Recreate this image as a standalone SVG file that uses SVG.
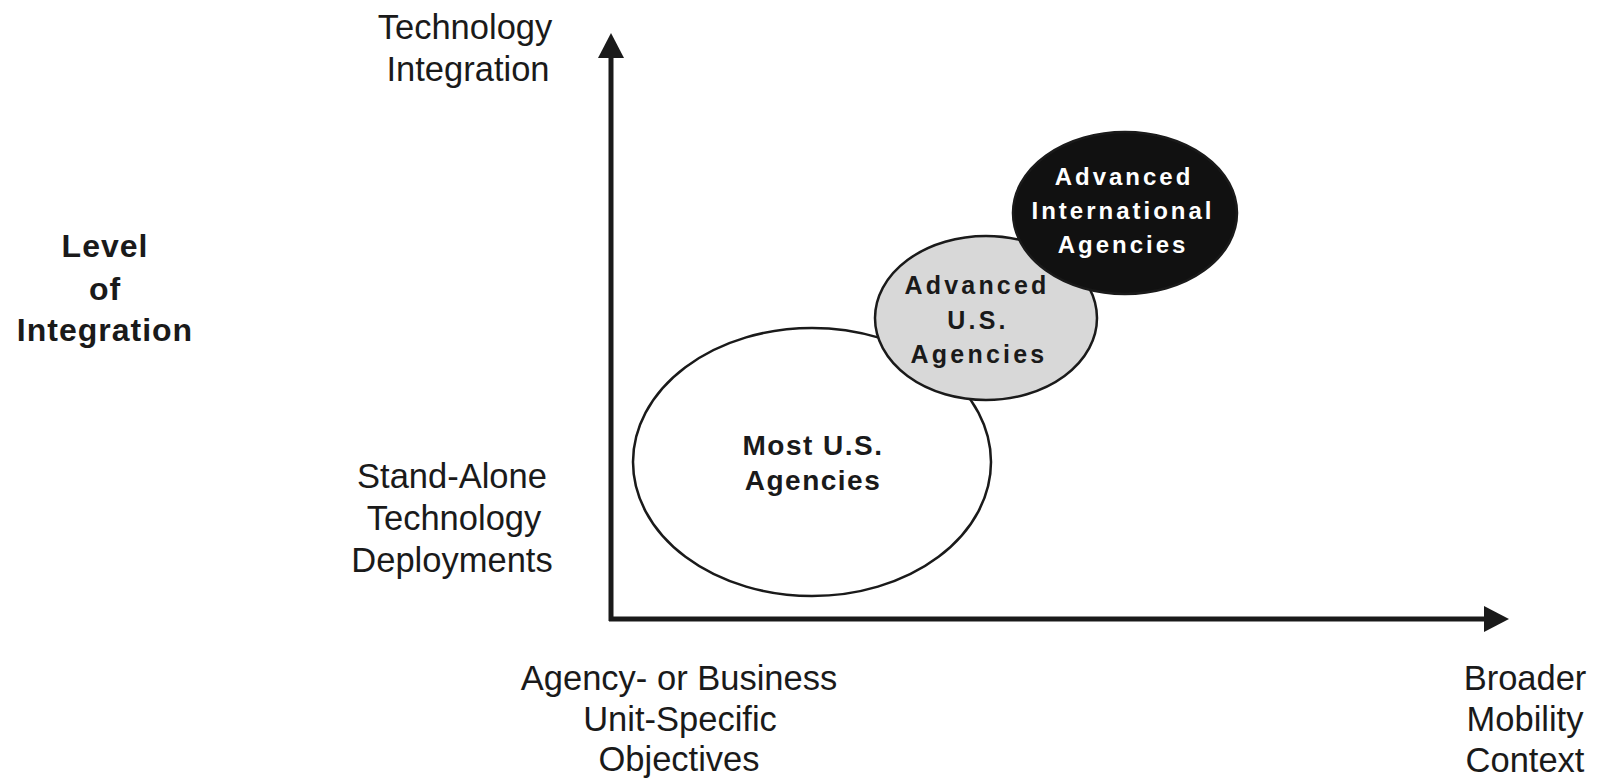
<svg xmlns="http://www.w3.org/2000/svg" width="1597" height="783" viewBox="0 0 1597 783">
  <style>
    text { font-family: "Liberation Sans", Arial, sans-serif; fill: #1a1a1a; text-anchor: middle; }
    .label { font-size: 34.5px; }
    .title { font-size: 32px; font-weight: bold; letter-spacing: 1px; }
    .node { font-size: 24px; font-weight: bold; letter-spacing: 3px; }
    .node-md { font-size: 25px; font-weight: bold; letter-spacing: 3.2px; }
    .node-lg { font-size: 28px; font-weight: bold; letter-spacing: 1.5px; }
    .inv { fill: #ffffff; }
    .ell { stroke: #1a1a1a; stroke-width: 2.5; }
    .axis { stroke: #1a1a1a; stroke-width: 5; fill: none; }
  </style>
  <defs>
    <marker id="arrow" markerUnits="userSpaceOnUse" markerWidth="26" markerHeight="28" viewBox="0 0 26 28" refX="0" refY="14" orient="auto">
      <path d="M0,1 L25,14 L0,27 Z" fill="#1a1a1a"/>
    </marker>
  </defs>

  <rect width="1597" height="783" fill="#ffffff"/>

  <!-- axis labels -->
  <g id="y-top-label">
    <text class="label" x="465" y="39">Technology</text>
    <text class="label" x="468" y="81">Integration</text>
  </g>
  <g id="y-bottom-label">
    <text class="label" x="452" y="488">Stand-Alone</text>
    <text class="label" x="454" y="530">Technology</text>
    <text class="label" x="452" y="572">Deployments</text>
  </g>
  <g id="y-title">
    <text class="title" x="105" y="257">Level</text>
    <text class="title" x="105" y="300">of</text>
    <text class="title" x="105" y="341">Integration</text>
  </g>
  <g id="x-left-label">
    <text class="label" x="679" y="690">Agency- or Business</text>
    <text class="label" x="680" y="731">Unit-Specific</text>
    <text class="label" x="679" y="771">Objectives</text>
  </g>
  <g id="x-right-label">
    <text class="label" x="1525" y="690">Broader</text>
    <text class="label" x="1525" y="731">Mobility</text>
    <text class="label" x="1525" y="772">Context</text>
  </g>

  <!-- axes -->
  <g id="connectors">
    <line class="axis" x1="611" y1="621" x2="611" y2="58" marker-end="url(#arrow)"/>
    <line class="axis" x1="609" y1="619" x2="1484" y2="619" marker-end="url(#arrow)"/>
  </g>

  <!-- maturity groups -->
  <g id="most-us-agencies">
    <ellipse class="ell" cx="812" cy="462" rx="179" ry="134" fill="#ffffff"/>
    <text class="node-lg" x="813" y="455">Most U.S.</text>
    <text class="node-lg" x="813" y="490">Agencies</text>
  </g>
  <g id="advanced-us-agencies">
    <ellipse class="ell" cx="986" cy="318" rx="111" ry="82" fill="#d8d8d8"/>
    <text class="node-md" x="977" y="294">Advanced</text>
    <text class="node-md" x="978" y="329">U.S.</text>
    <text class="node-md" x="979" y="363">Agencies</text>
  </g>
  <g id="advanced-international-agencies">
    <ellipse class="ell" cx="1125" cy="213" rx="112" ry="81" fill="#111111"/>
    <text class="node inv" x="1124" y="185">Advanced</text>
    <text class="node inv" x="1123" y="219">International</text>
    <text class="node inv" x="1123" y="253">Agencies</text>
  </g>
</svg>
